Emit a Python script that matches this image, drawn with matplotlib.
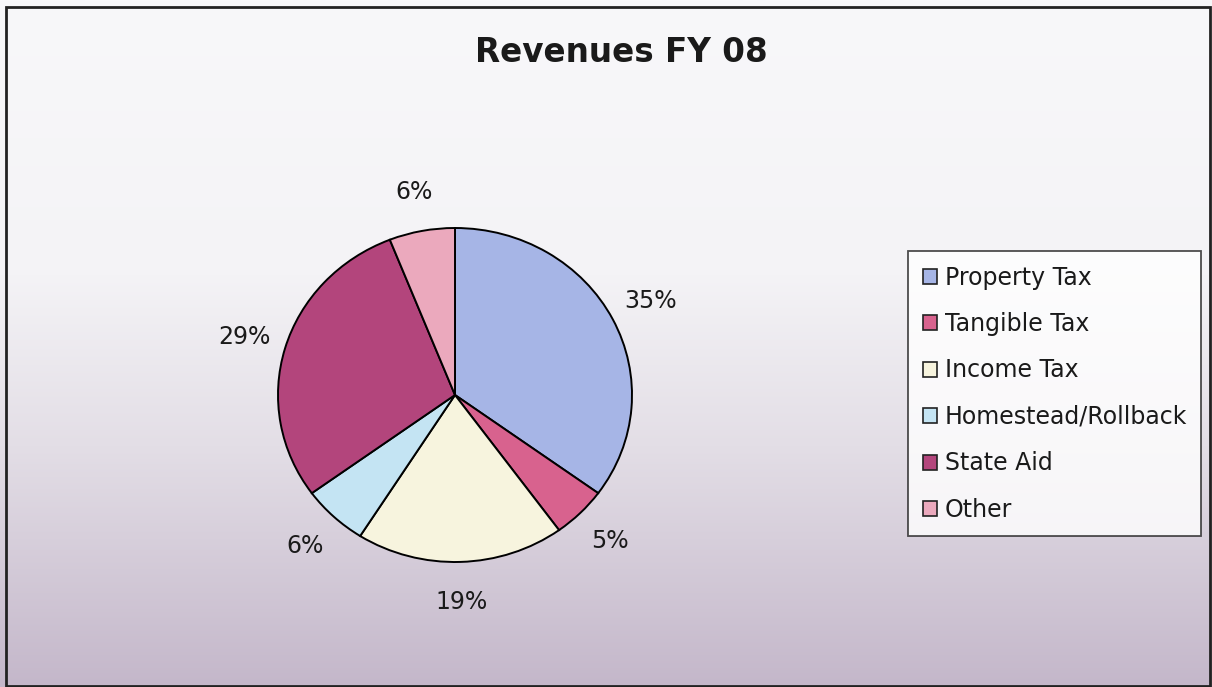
import matplotlib
matplotlib.use("Agg")
import matplotlib.pyplot as plt
import numpy as np
from matplotlib.patches import Rectangle, Patch
from matplotlib.colors import LinearSegmentedColormap

categories = ["Property Tax", "Tangible Tax", "Income Tax", "Homestead/Rollback", "State Aid", "Other"]
values = [35, 5, 19, 6, 29, 6]
colors = ["#a6b5e6", "#d8628e", "#f7f4de", "#c4e4f3", "#b3457c", "#eba9bd"]
title = "Revenues FY 08"

W, H = 1212, 687
fig = plt.figure(figsize=(W / 100, H / 100), dpi=100)
plt.rcParams['font.family'] = ['DejaVu Sans']

# background gradient
bg = fig.add_axes([0, 0, 1, 1], zorder=-10)
cmap = LinearSegmentedColormap.from_list(
    "bg", [(0.0, "#f8f8fa"), (0.4, "#f4f3f6"), (0.65, "#e3dee6"), (1.0, "#c4b7ca")])
grad = np.linspace(0, 1, 256).reshape(-1, 1)
bg.imshow(grad, aspect="auto", cmap=cmap, extent=[0, 1, 0, 1], origin="upper")
bg.set_xlim(0, 1)
bg.set_ylim(0, 1)
bg.axis("off")
bg.add_patch(Rectangle((6 / W, 1 / H), (1210 - 6) / W, (680 - 1) / H,
                       transform=bg.transAxes, fill=False, edgecolor="#222222", lw=2))

# pie (slightly wider than tall, like the reference)
cx, cy, rx, ry = 455, 395, 177, 167
ax = fig.add_axes([(cx - rx) / W, 1 - (cy + ry) / H, 2 * rx / W, 2 * ry / H])
ax.pie(values, colors=colors, startangle=90, counterclock=False,
       autopct="%1.0f%%", pctdistance=1.24,
       wedgeprops=dict(edgecolor="black", linewidth=1.4),
       textprops=dict(fontsize=17, color="#1a1a1a"))
ax.set_aspect("auto")
ax.set_xlim(-1, 1)
ax.set_ylim(-1, 1)

fig.text(621 / W, 1 - 53 / H, title, ha="center", va="center",
         fontsize=23.5, fontweight="bold", color="#1a1a1a")

handles = [Patch(facecolor=c, edgecolor="#222222", linewidth=1.2) for c in colors]
leg = fig.legend(handles, categories, loc="upper left",
                 bbox_to_anchor=(908 / W, 1 - 533 / H, 293 / W, 282 / H),
                 mode="expand", borderaxespad=0,
                 fontsize=17, frameon=True, fancybox=False,
                 handlelength=0.6, handleheight=0.6, handletextpad=0.35,
                 labelspacing=0.95, borderpad=0.62)
leg.get_frame().set_edgecolor("#222222")
leg.get_frame().set_linewidth(1.3)
leg.get_frame().set_facecolor("white")
for t in leg.get_texts():
    t.set_color("#1a1a1a")

fig.savefig("out.png", dpi=100)
